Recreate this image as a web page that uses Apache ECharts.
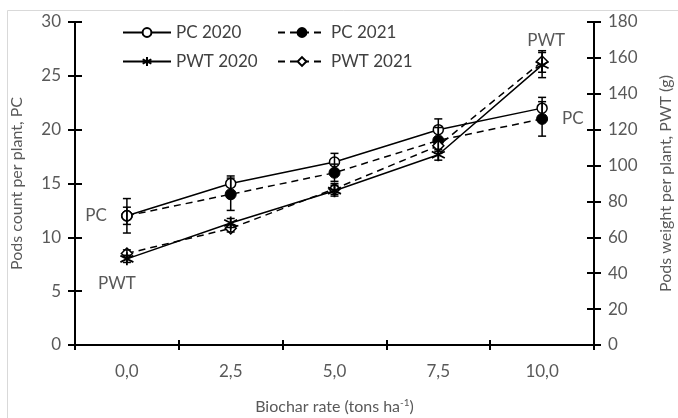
<!DOCTYPE html>
<html>
<head>
<meta charset="utf-8">
<script src="https://cdn.jsdelivr.net/npm/echarts@6/dist/echarts.min.js"></script>
<style>
  html, body { margin: 0; padding: 0; background: #fff; }
  #chart { width: 678px; height: 418px; }
</style>
</head>
<body>
<div id="chart"></div>
<script>
const rates = ['0,0', '2,5', '5,0', '7,5', '10,0']

// pods count per plant (left axis)
const pc2020 = [12, 15, 17, 20, 22]
const pc2021 = [12, 14, 16, 19, 21]
const pc2020Err = [0.8, 0.7, 0.8, 1.0, 1.0]
const pc2021Err = [1.6, 1.5, 0.8, 1.2, 1.6]

// pods weight per plant, g (right axis)
const pwt2020 = [48, 68, 86, 106, 156]
const pwt2021 = [51, 65, 87, 111, 158]
const pwt2020Err = [2, 2.5, 3, 3, 7]
const pwt2021Err = [2, 2, 3, 3, 6]

const gray = '#595959'
const font = 'Lato, "Open Sans", sans-serif'
const starPath = 'path://M5 0 L5 10 M0.7 2.5 L9.3 7.5 M0.7 7.5 L9.3 2.5'

const chart = echarts.init(document.getElementById('chart'))

const withLabel = (values, idx, label) => values.map((v, i) => i === idx ? { value: v, label } : v)

const errSeries = (values, errs, yAxisIndex) => ({
  type: 'custom',
  yAxisIndex,
  z: 5,
  silent: true,
  data: values.map((v, i) => [i, v, errs[i]]),
  renderItem: (params, api) => {
    const i = api.value(0), v = api.value(1), e = api.value(2)
    const top = api.coord([i, v + e])
    const bot = api.coord([i, v - e])
    const style = { stroke: '#000', lineWidth: 1.5 }
    return {
      type: 'group',
      children: [
        { type: 'line', shape: { x1: top[0], y1: top[1], x2: bot[0], y2: bot[1] }, style },
        { type: 'line', shape: { x1: top[0] - 4, y1: top[1], x2: top[0] + 4, y2: top[1] }, style },
        { type: 'line', shape: { x1: bot[0] - 4, y1: bot[1], x2: bot[0] + 4, y2: bot[1] }, style }
      ]
    }
  }
})

const annot = (text, position, extra) => Object.assign({
  show: true, formatter: text, position, color: gray, fontSize: 17, fontFamily: font
}, extra)

const legendItem = (name, left, top) => ({
  data: [name], left, top, itemWidth: 48, itemHeight: 11, padding: 0, itemGap: 4,
  textStyle: { color: '#404040', fontSize: 17, fontFamily: font }
})

const yBase = {
  type: 'value', min: 0,
  axisLine: { show: true, lineStyle: { color: '#000', width: 2 } },
  axisTick: { show: true, length: 7, lineStyle: { color: '#000', width: 2 } },
  splitLine: { show: false }
}

chart.setOption({
  animation: false,
  backgroundColor: '#fff',
  textStyle: { fontFamily: font },
  graphic: [{
    type: 'rect', shape: { x: 7.5, y: 10.5, width: 700, height: 420 },
    style: { fill: 'none', stroke: '#d9d9d9', lineWidth: 1 }, silent: true
  }],
  legend: [
    legendItem('PC 2020', 122, 24),
    legendItem('PC 2021', 277, 24),
    legendItem('PWT 2020', 122, 53),
    legendItem('PWT 2021', 277, 53)
  ],
  grid: { left: 75, right: 84, top: 22, bottom: 73, containLabel: false, outerBoundsMode: 'none' },
  xAxis: [{
    type: 'category', data: rates, boundaryGap: true,
    axisLine: { lineStyle: { color: '#000', width: 2 } },
    axisTick: { show: true, length: 5, lineStyle: { color: '#000', width: 2 } },
    axisLabel: { color: gray, fontSize: 17, fontFamily: font, margin: 18 },
    name: '{a|Biochar rate (tons ha}{s|-1}{a|)}',
    nameLocation: 'middle', nameGap: 53,
    nameTextStyle: {
      rich: {
        a: { color: gray, fontSize: 16, fontFamily: font },
        s: { color: gray, fontSize: 10, fontFamily: font, verticalAlign: 'top', padding: [0, 0, 7, 0] }
      }
    }
  }, {
    type: 'category', data: rates, boundaryGap: true, position: 'bottom',
    axisLine: { show: false },
    axisTick: { show: true, inside: true, length: 5, lineStyle: { color: '#000', width: 2 } },
    axisLabel: { show: false }
  }],
  yAxis: [
    Object.assign({}, yBase, {
      position: 'left', max: 30, interval: 5,
      axisLabel: { color: gray, fontSize: 17, fontFamily: font, margin: 14 },
      name: 'Pods count per plant, PC', nameLocation: 'middle', nameGap: 50,
      nameTextStyle: { color: gray, fontSize: 16, fontFamily: font }
    }),
    Object.assign({}, yBase, {
      position: 'right', max: 180, interval: 20,
      axisLabel: { color: gray, fontSize: 17, fontFamily: font, margin: 14 },
      name: 'Pods weight per plant, PWT (g)', nameLocation: 'middle', nameGap: 64,
      nameRotate: 90,
      nameTextStyle: { color: gray, fontSize: 16, fontFamily: font }
    }),
    Object.assign({}, yBase, {
      position: 'left', max: 30, interval: 5,
      axisLine: { show: false },
      axisTick: { show: true, inside: true, length: 7, lineStyle: { color: '#000', width: 2 } },
      axisLabel: { show: false }
    }),
    Object.assign({}, yBase, {
      position: 'right', max: 180, interval: 20,
      axisLine: { show: false },
      axisTick: { show: true, inside: true, length: 7, lineStyle: { color: '#000', width: 2 } },
      axisLabel: { show: false }
    })
  ],
  series: [
    {
      name: 'PC 2020', type: 'line', yAxisIndex: 0, z: 4,
      data: pc2020,
      symbol: 'circle', symbolSize: 10,
      lineStyle: { color: '#000', width: 1.5 },
      itemStyle: { color: '#fff', borderColor: '#000', borderWidth: 1.5 }
    },
    {
      name: 'PC 2021', type: 'line', yAxisIndex: 0, z: 3,
      data: withLabel(withLabel(pc2021, 0, annot('PC', 'left', { distance: 14 })), 4,
        annot('PC', 'right', { distance: 14 })),
      symbol: 'circle', symbolSize: 11,
      lineStyle: { color: '#000', width: 1.5, type: [7, 5] },
      itemStyle: { color: '#000', borderColor: '#000', borderWidth: 1 }
    },
    {
      name: 'PWT 2020', type: 'line', yAxisIndex: 1, z: 4,
      data: withLabel(pwt2020, 0, annot('PWT', 'bottom', { offset: [-10, 4] })),
      symbol: starPath, symbolSize: 13,
      lineStyle: { color: '#000', width: 1.5 },
      itemStyle: { color: '#000', borderColor: '#000', borderWidth: 1.8 }
    },
    {
      name: 'PWT 2021', type: 'line', yAxisIndex: 1, z: 3,
      data: withLabel(pwt2021, 4, annot('PWT', 'top', { distance: 6, offset: [4, 0] })),
      symbol: 'diamond', symbolSize: 11,
      lineStyle: { color: '#000', width: 1.5, type: [7, 5] },
      itemStyle: { color: '#fff', borderColor: '#000', borderWidth: 1.5 }
    },
    errSeries(pc2020, pc2020Err, 0),
    errSeries(pc2021, pc2021Err, 0),
    errSeries(pwt2020, pwt2020Err, 1),
    errSeries(pwt2021, pwt2021Err, 1)
  ]
})
</script>
</body>
</html>
